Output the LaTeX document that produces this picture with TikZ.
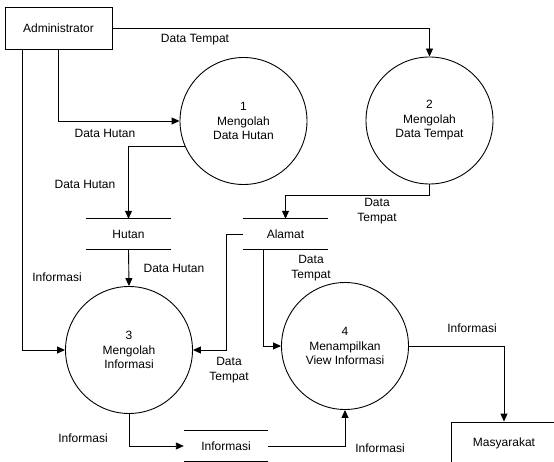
\documentclass[tikz,border=0pt]{standalone}
\usepackage{fontspec}
\setmainfont{Liberation Sans}
\usetikzlibrary{arrows.meta,calc}
\begin{document}
\begin{tikzpicture}[x=1pt,y=-1pt,
  every node/.style={font=\fontsize{12}{14.5}\selectfont, inner sep=0pt},
  proc/.style={circle, draw, line width=0.9pt, minimum size=127pt, align=center},
  ext/.style={draw, line width=0.9pt, rectangle},
  store/.style={minimum width=85pt, minimum height=30pt},
  lbl/.style={align=center},
  flow/.style={line width=0.9pt, -{Triangle[length=8pt,width=7pt]}},
  plain/.style={line width=0.9pt}]
\useasboundingbox (0,0) rectangle (554,462);
\clip (0,0) rectangle (554,462);
\fill[white] (0,0) rectangle (554,462);
% entities
\node[ext, minimum width=107pt, minimum height=42pt] (adm) at (58.5,28) {Administrator};
\node[ext, minimum width=106pt, minimum height=42pt] (masy) at (504,443) {Masyarakat};
% processes
\node[proc] (c1) at (243.5,121) {1\\Mengolah\\Data Hutan};
\node[proc] (c2) at (429.5,120.5) {2\\Mengolah\\Data Tempat};
\node[proc] (c3) at (129,350) {3\\Mengolah\\Informasi};
\node[proc] (c4) at (345,346) {4\\Menampilkan\\View Informasi};
% data stores
\node[store] (hutan) at (128.5,234) {Hutan};
\node[store] (alamat) at (285.5,234) {Alamat};
\node[store, minimum width=84pt] (info) at (226,446) {Informasi};
\foreach \s in {hutan,alamat,info}{
  \draw[plain] (\s.north west) -- (\s.north east);
  \draw[plain] (\s.south west) -- (\s.south east);
}
% flows
\draw[flow] (adm.east) -| (c2.north);
\draw[flow] (adm.south) |- (c1.west);
\draw[flow] ([xshift=18pt]adm.south west) |- (c3.west);
\draw[flow] (c1.203) -| (hutan.north);
\draw[flow] (hutan.south) -- (c3.north);
\draw[flow] (c2.south) -- ++(0,11) -| (alamat.north);
\draw[flow] (alamat.west) -- ++(-16,0) |- (c3.east);
\draw[flow] ([xshift=21pt]alamat.south west) |- (c4.west);
\draw[flow] (c4.east) -| (masy.north);
\draw[flow] (c3.south) |- (info.west);
\draw[flow] (info.east) -| (c4.south);
% labels
\node[lbl] (l1) at (195,40) {Data Tempat};
\node[lbl] (l2) at (105,133) {Data Hutan};
\node[lbl] (l3) at (57,277) {Informasi};
\node[lbl] (l4) at (85,184) {Data Hutan};
\node[lbl] (l5) at (174,268) {Data Hutan};
\node[lbl] (l6) at (377,211) {Data\\Tempat};
\node[lbl] (l7) at (229,370) {Data\\Tempat};
\node[lbl] (l8) at (311,268) {Data\\Tempat};
\node[lbl] (l9) at (472,328) {Informasi};
\node[lbl] (l10) at (83,438) {Informasi};
\node[lbl] (l11) at (380,448) {Informasi};
\end{tikzpicture}
\end{document}
